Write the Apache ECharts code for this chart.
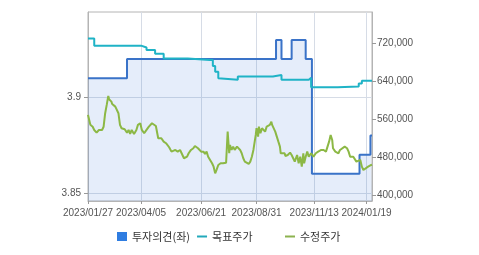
<!DOCTYPE html>
<html>
<head>
<meta charset="utf-8">
<script src="https://cdn.jsdelivr.net/npm/echarts@6/dist/echarts.min.js"></script>
<style>
  html, body { margin: 0; padding: 0; background: #fff; }
  #chart { width: 479px; height: 255px; }
</style>
</head>
<body>
<div id="chart"></div>
<script>
// x axis labels
const tickDates = ['2023-01-27', '2023-04-05', '2023-06-21', '2023-08-31', '2023-11-13', '2024-01-19'];
const leftTicks = [3.85, 3.9];
const rightTicks = [400000, 480000, 560000, 640000, 720000];

// 투자의견(좌) - step points
const opinionDates = ['2023-01-27', '2023-03-18', '2023-09-25', '2023-10-02', '2023-10-15', '2023-11-02',
  '2023-11-10', '2024-01-10', '2024-01-24', '2024-01-26'];
const opinionValues = [3.91, 3.92, 3.93, 3.92, 3.93, 3.92, 3.86, 3.87, 3.88, 3.88];

// 목표주가 - step points
const targetDates = ['2023-01-27', '2023-02-04', '2023-04-05', '2023-04-12', '2023-04-23', '2023-05-04',
  '2023-06-04', '2023-07-02', '2023-07-06', '2023-07-09', '2023-07-13', '2023-07-15', '2023-08-07',
  '2023-09-21', '2023-10-02', '2023-11-06', '2023-11-09', '2023-12-13', '2024-01-09', '2024-01-13', '2024-01-26'];
const targetValues = [730000, 715000, 711000, 706000, 698000, 688000,
  685000, 685000, 672000, 660000, 646000, 643000, 650000,
  653000, 643000, 647000, 627000, 629000, 635000, 641000, 641000];

// 수정주가
const priceDates = [
  '2023-01-27', '2023-01-30', '2023-02-02', '2023-02-04', '2023-02-07', '2023-02-10', '2023-02-14', '2023-02-16',
  '2023-02-18', '2023-02-20', '2023-02-22', '2023-02-23', '2023-02-26', '2023-02-27', '2023-03-01', '2023-03-03',
  '2023-03-05', '2023-03-07', '2023-03-09', '2023-03-11', '2023-03-13', '2023-03-15', '2023-03-18', '2023-03-20',
  '2023-03-22', '2023-03-24', '2023-03-27', '2023-03-30', '2023-04-01', '2023-04-04', '2023-04-06', '2023-04-09',
  '2023-04-12', '2023-04-15', '2023-04-19', '2023-04-21', '2023-04-24', '2023-04-27', '2023-04-29', '2023-05-01',
  '2023-05-04', '2023-05-07', '2023-05-09', '2023-05-11', '2023-05-14', '2023-05-16', '2023-05-19', '2023-05-22',
  '2023-05-25', '2023-05-27', '2023-05-30', '2023-05-31', '2023-06-03', '2023-06-05', '2023-06-08', '2023-06-11',
  '2023-06-13', '2023-06-15', '2023-06-17', '2023-06-21', '2023-06-24', '2023-06-26', '2023-06-28', '2023-06-30',
  '2023-07-02', '2023-07-05', '2023-07-07', '2023-07-09', '2023-07-11', '2023-07-13', '2023-07-16', '2023-07-17',
  '2023-07-19', '2023-07-23', '2023-07-24', '2023-07-25', '2023-07-27', '2023-07-28', '2023-07-30', '2023-08-01',
  '2023-08-03', '2023-08-06', '2023-08-08', '2023-08-10', '2023-08-12', '2023-08-14', '2023-08-16', '2023-08-18',
  '2023-08-21', '2023-08-23', '2023-08-25', '2023-08-27', '2023-08-29', '2023-08-30', '2023-08-31', '2023-09-02',
  '2023-09-03', '2023-09-05', '2023-09-07', '2023-09-09', '2023-09-11', '2023-09-13', '2023-09-15', '2023-09-17',
  '2023-09-19', '2023-09-20', '2023-09-22', '2023-09-24', '2023-09-26', '2023-09-28', '2023-09-30', '2023-10-01',
  '2023-10-03', '2023-10-06', '2023-10-07', '2023-10-10', '2023-10-13', '2023-10-15', '2023-10-17', '2023-10-19',
  '2023-10-22', '2023-10-24', '2023-10-26', '2023-10-28', '2023-10-30', '2023-10-31', '2023-11-02', '2023-11-04',
  '2023-11-06', '2023-11-09', '2023-11-12', '2023-11-15', '2023-11-18', '2023-11-19', '2023-11-22', '2023-11-25',
  '2023-11-28', '2023-11-30', '2023-12-02', '2023-12-04', '2023-12-06', '2023-12-07', '2023-12-10', '2023-12-12',
  '2023-12-14', '2023-12-16', '2023-12-18', '2023-12-22', '2023-12-25', '2023-12-27', '2023-12-29', '2023-12-31',
  '2024-01-02', '2024-01-04', '2024-01-06', '2024-01-08', '2024-01-11', '2024-01-13', '2024-01-15', '2024-01-17',
  '2024-01-21', '2024-01-23', '2024-01-25', '2024-01-26'
];
const priceValues = [
  569000, 548000, 544000, 537000, 531500, 537000, 537000, 544000,
  572500, 590000, 609000, 602000, 597000, 592000, 593500, 586400,
  588000, 572500, 547800, 540800, 537200, 538700, 531500, 537200,
  528800, 537200, 528800, 537200, 547800, 551300, 537200, 530200,
  537200, 544200, 551300, 547800, 545600, 519700, 516100, 519700,
  512500, 509200, 510400, 500700, 491400, 488000, 495000, 491400,
  495000, 488000, 477500, 473900, 480800, 488000, 495000, 498600,
  503400, 505500, 498600, 491400, 491400, 486500, 491400, 480800,
  477500, 466900, 459700, 445800, 454200, 463300, 466900, 463300,
  466900, 468200, 470300, 533600, 488000, 505500, 495000, 502000,
  495000, 502000, 505500, 495000, 488000, 477500, 470300, 466900,
  465400, 470300, 480800, 495000, 516100, 526600, 540800, 523100,
  544200, 530200, 540800, 537200, 533600, 544200, 540800, 547800,
  554700, 547800, 544200, 533600, 523100, 512500, 502000, 488000,
  491400, 488000, 482300, 484400, 489300, 484400, 477500, 470300,
  484400, 466900, 480800, 459700, 488000, 466900, 480800, 491400,
  480800, 488000, 480800, 488000, 491400, 488000, 495000, 495000,
  491400, 502000, 512500, 526600, 516100, 498600, 491400, 488000,
  488000, 495000, 498600, 502000, 498600, 491400, 480800, 477500,
  480800, 484400, 470300, 466900, 473900, 459700, 452800, 456400,
  459700, 461200, 463300, 464000
];

const toTime = d => echarts.time.parse(d).getTime();
const zip = (xs, ys) => xs.map((x, i) => [toTime(x), ys[i]]);
const labelFont = "'Liberation Sans', sans-serif";
const legendFont = "'Noto Sans CJK KR', sans-serif";
const xTicks = tickDates.map(toTime);
const lineIcon = 'path://M0,0H10V2H0Z';

let chart = echarts.init(document.getElementById('chart'), null, { renderer: 'canvas' });

let legendBase = {
  top: 226,
  itemGap: 7, itemWidth: 10, itemHeight: 9,
  textStyle: { fontSize: 11, color: '#333', fontFamily: legendFont }
};

let option = {
  animation: false,
  backgroundColor: '#fff',
  grid: {
    left: 88, right: 107, top: 12, bottom: 54,
    show: true, borderColor: '#b4b4b4', borderWidth: 1,
    outerBoundsMode: 'none'
  },
  legend: [
    Object.assign({}, legendBase, {
      left: 112,
      data: [
        { name: '투자의견(좌)', icon: 'rect', itemStyle: { color: '#2f7de1' } },
        { name: '목표주가', icon: lineIcon, itemStyle: { color: '#22a9bb' } }
      ]
    }),
    Object.assign({}, legendBase, {
      left: 280,
      data: [
        { name: '수정주가', icon: lineIcon, itemStyle: { color: '#8cb24f' } }
      ]
    })
  ],
  xAxis: {
    type: 'value',
    min: toTime('2023-01-27'),
    max: toTime('2024-01-26'),
    axisLine: { show: true, lineStyle: { color: '#b4b4b4' } },
    axisTick: { show: true, length: 3, lineStyle: { color: '#999' }, customValues: xTicks },
    axisLabel: {
      color: '#555', fontSize: 10, fontFamily: labelFont, margin: 7,
      customValues: xTicks, hideOverlap: false, showMinLabel: true, showMaxLabel: true,
      formatter: v => echarts.time.format(v, '{yyyy}/{MM}/{dd}', false)
    },
    splitLine: { show: true, lineStyle: { color: '#d6dce6' } }
  },
  yAxis: [
    {
      type: 'value',
      min: 3.8458, max: 3.9446,
      axisLine: { show: true, lineStyle: { color: '#b4b4b4' } },
      axisTick: { show: true, length: 4, lineStyle: { color: '#999' }, customValues: leftTicks },
      axisLabel: { color: '#555', fontSize: 10, fontFamily: labelFont, margin: 7, customValues: leftTicks },
      splitLine: { show: true, lineStyle: { color: '#d6dce6' } }
    },
    {
      type: 'value',
      position: 'right',
      min: 387300, max: 786000,
      axisLine: { show: true, lineStyle: { color: '#b4b4b4' } },
      axisTick: { show: true, length: 4, lineStyle: { color: '#999' }, customValues: rightTicks },
      axisLabel: {
        color: '#555', fontSize: 10, fontFamily: labelFont, margin: 5, customValues: rightTicks,
        formatter: v => v.toLocaleString('en-US')
      },
      splitLine: { show: false }
    }
  ],
  series: [
    {
      name: '투자의견(좌)',
      type: 'line',
      yAxisIndex: 0,
      step: 'end',
      symbol: 'none',
      data: zip(opinionDates, opinionValues),
      lineStyle: { color: '#3a73c8', width: 2 },
      itemStyle: { color: '#3a73c8' },
      areaStyle: { origin: 'start', color: 'rgba(30,100,210,0.16)' }
    },
    {
      name: '목표주가',
      type: 'line',
      yAxisIndex: 1,
      step: 'end',
      symbol: 'none',
      data: zip(targetDates, targetValues),
      lineStyle: { color: '#1fb3c6', width: 2 },
      itemStyle: { color: '#1fb3c6' }
    },
    {
      name: '수정주가',
      type: 'line',
      yAxisIndex: 1,
      symbol: 'none',
      data: zip(priceDates, priceValues),
      lineStyle: { color: '#8cb845', width: 2 },
      itemStyle: { color: '#8cb845' }
    }
  ]
};
chart.setOption(option);
</script>
</body>
</html>
